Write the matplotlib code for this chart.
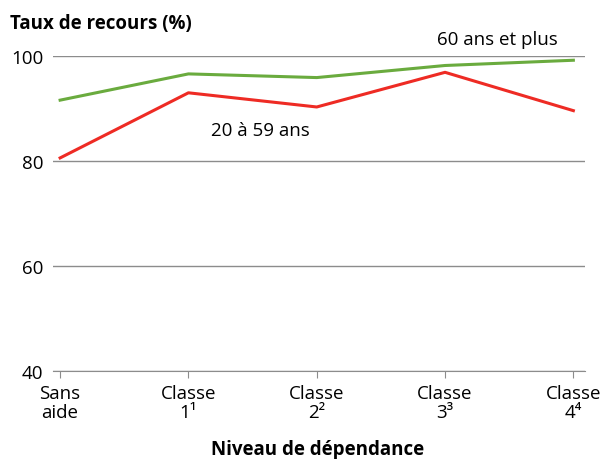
import matplotlib
matplotlib.use("Agg")
import matplotlib.pyplot as plt

plt.rcParams['font.family'] = ['Open Sans', 'DejaVu Sans']

# données
categories = ["Sans\naide", "Classe\n1¹", "Classe\n2²", "Classe\n3³", "Classe\n4⁴"]
plus_60 = [91.6, 96.6, 95.9, 98.2, 99.2]
de_20_a_59 = [80.6, 93.0, 90.3, 96.9, 89.6]
y_ticks = [40, 60, 80, 100]

green = "#6aab3e"
red = "#ee2b24"
grey = "#8c8c8c"
fs = 13.5

fig = plt.figure(figsize=(6.03, 4.6), dpi=100)
ax = fig.add_axes([0.088, 0.191, 0.882, 0.685])

x = list(range(len(categories)))
ax.plot(x, plus_60, color=green, lw=2.2, clip_on=False, zorder=3)
ax.plot(x, de_20_a_59, color=red, lw=2.2, clip_on=False, zorder=3)

ax.set_xlim(-0.055, 4.09)
ax.set_ylim(40, 100)
ax.set_yticks(y_ticks)
ax.set_xticks(x)
ax.set_xticklabels(categories, fontsize=fs, linespacing=1.1)
ax.tick_params(axis='y', length=0, labelsize=fs, pad=7)
ax.tick_params(axis='x', length=5, color=grey, pad=4)
ax.grid(axis='y', color=grey, lw=1)
ax.set_axisbelow(True)
for s in ['top', 'right', 'left']:
    ax.spines[s].set_visible(False)
ax.spines['bottom'].set_color(grey)

ax.text(3.41, 103.2, "60 ans et plus", fontsize=fs, ha='center', va='center')
ax.text(1.56, 85.9, "20 à 59 ans", fontsize=fs, ha='center', va='center')

fig.text(10 / 603, 1 - 24 / 460, "Taux de recours (%)", fontsize=fs,
         fontweight='bold', ha='left', va='center')
fig.text(318 / 603, 1 - 450 / 460, "Niveau de dépendance", fontsize=fs,
         fontweight='bold', ha='center', va='center')

fig.savefig("out.png", dpi=100)
